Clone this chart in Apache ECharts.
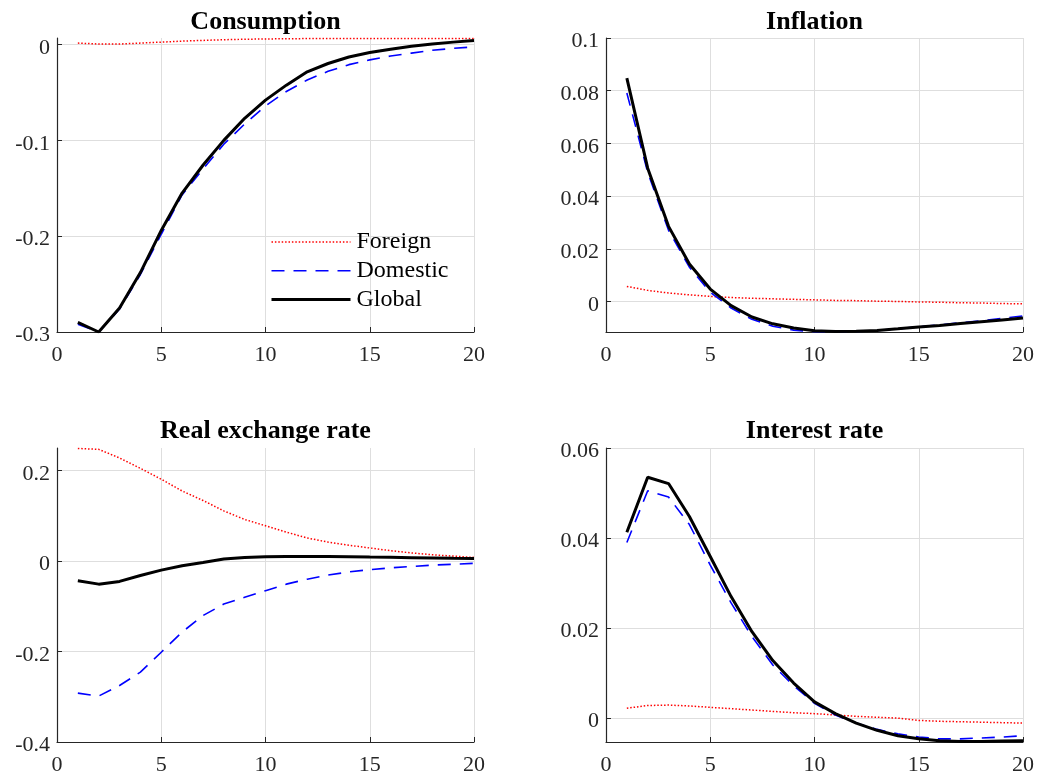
<!DOCTYPE html>
<html><head><meta charset="utf-8">
<script src="https://cdn.jsdelivr.net/npm/echarts@6/dist/echarts.min.js"></script>
<style>html,body{margin:0;padding:0;background:#fff}#c{width:1040px;height:776px}</style>
</head><body><div id="c"></div>
<script>
// ---------------- data ----------------
const periods = [1,2,3,4,5,6,7,8,9,10,11,12,13,14,15,16,17,18,19,20];
const seriesNames = ['Foreign','Domestic','Global'];
const panelTitles = ['Consumption','Inflation','Real exchange rate','Interest rate'];

const consForeign = [0.0015,0.0005,0.0005,0.0015,0.0025,0.0035,0.0043,0.005,0.0055,0.0058,0.006,0.0062,0.0062,0.0063,0.0063,0.0063,0.0063,0.0063,0.0063,0.0063];
const consDomestic = [-0.292,-0.3,-0.276,-0.24,-0.198,-0.157,-0.13,-0.104,-0.083,-0.064,-0.049,-0.037,-0.028,-0.021,-0.016,-0.012,-0.009,-0.006,-0.004,-0.0025];
const consGlobal = [-0.29,-0.3,-0.275,-0.238,-0.194,-0.155,-0.126,-0.1,-0.077,-0.058,-0.0424,-0.0285,-0.0198,-0.013,-0.0084,-0.0049,-0.0018,0.0005,0.0025,0.0042];

const inflForeign = [0.0057,0.0042,0.0032,0.0025,0.0019,0.0015,0.0012,0.001,0.0008,0.0006,0.0004,0.0003,0.0001,0,-0.0002,-0.0003,-0.0005,-0.0006,-0.0008,-0.0009];
const inflDomestic = [0.0791,0.049,0.027,0.013,0.0035,-0.0025,-0.0068,-0.0094,-0.0109,-0.0115,-0.0116,-0.0114,-0.011,-0.0104,-0.0096,-0.0089,-0.0081,-0.0073,-0.0064,-0.0055];
const inflGlobal = [0.0848,0.0506,0.0285,0.0142,0.0047,-0.0016,-0.0059,-0.0085,-0.0101,-0.0111,-0.0114,-0.0113,-0.011,-0.0104,-0.0097,-0.0091,-0.0084,-0.0077,-0.007,-0.0063];

const rerForeign = [0.249,0.247,0.228,0.205,0.181,0.155,0.134,0.111,0.092,0.078,0.064,0.051,0.042,0.035,0.029,0.023,0.018,0.014,0.011,0.008];
const rerDomestic = [-0.292,-0.2985,-0.275,-0.2455,-0.2015,-0.157,-0.1206,-0.095,-0.08,-0.0655,-0.051,-0.04,-0.031,-0.024,-0.019,-0.015,-0.012,-0.009,-0.007,-0.005];
const rerGlobal = [-0.0434,-0.051,-0.045,-0.032,-0.02,-0.0103,-0.003,0.0044,0.008,0.0095,0.01,0.0102,0.0101,0.0098,0.009,0.0083,0.0075,0.0068,0.006,0.0055];

const rateForeign = [0.0022,0.0028,0.0029,0.0027,0.0024,0.0021,0.0018,0.0015,0.0012,0.001,0.0007,0.0004,0.0002,0,-0.0005,-0.0007,-0.0008,-0.0009,-0.001,-0.0011];
const rateDomestic = [0.039,0.0505,0.0491,0.043,0.034,0.0256,0.0181,0.0118,0.0072,0.0033,0.0007,-0.0011,-0.0025,-0.0035,-0.0042,-0.0046,-0.0046,-0.0044,-0.0042,-0.0039];
const rateGlobal = [0.0413,0.0535,0.0521,0.0448,0.0359,0.027,0.0192,0.0128,0.0078,0.0036,0.001,-0.0011,-0.0027,-0.0039,-0.0046,-0.005,-0.0052,-0.0052,-0.0051,-0.005];

const xTickLabels = [0,5,10,15,20];
const consTicks = [-0.3,-0.2,-0.1,0];
const inflTicks = [0,0.02,0.04,0.06,0.08,0.1];
const rerTicks = [-0.4,-0.2,0,0.2];
const rateTicks = [0,0.02,0.04,0.06];

// ---------------- layout ----------------
const panels = [
  {title: panelTitles[0], data: [consForeign, consDomestic, consGlobal], ticks: consTicks, ymin: -0.3, ymax: 0.0068,
   grid: {left: 57, right: 566, top: 38, bottom: 444}, cx: 265.5, ty: 22},
  {title: panelTitles[1], data: [inflForeign, inflDomestic, inflGlobal], ticks: inflTicks, ymin: -0.0116, ymax: 0.1,
   grid: {left: 606, right: 17, top: 38, bottom: 444}, cx: 814.5, ty: 22},
  {title: panelTitles[2], data: [rerForeign, rerDomestic, rerGlobal], ticks: rerTicks, ymin: -0.4, ymax: 0.25,
   grid: {left: 57, right: 566, top: 448, bottom: 34}, cx: 265.5, ty: 431},
  {title: panelTitles[3], data: [rateForeign, rateDomestic, rateGlobal], ticks: rateTicks, ymin: -0.0053, ymax: 0.06,
   grid: {left: 606, right: 17, top: 448, bottom: 34}, cx: 814.5, ty: 431}
];

const FONT = '"Liberation Serif", "Times New Roman", serif';
const AXC = '#262626';
const GRIDC = '#dedede';
const fmt = v => { const r = Math.round(v * 1e6) / 1e6; return r === 0 ? '0' : String(r); };

const styles = [
  {color: '#ff0000', width: 1.5, type: [1.5, 1.9]},
  {color: '#0000ff', width: 1.6, type: [13, 9]},
  {color: '#000000', width: 3, type: 'solid'}
];

const grids = [], xAxes = [], yAxes = [], series = [], graphics = [];
panels.forEach((p, i) => {
  grids.push(Object.assign({containLabel: false}, p.grid));
  xAxes.push({
    type: 'value', gridIndex: i, min: 0, max: 20, interval: 5,
    axisLine: {show: true, onZero: false, lineStyle: {color: AXC, width: 1.2}},
    axisTick: {show: true, inside: true, length: 5, lineStyle: {color: AXC}, customValues: xTickLabels},
    axisLabel: {show: true, margin: 12, fontFamily: FONT, fontSize: 22, color: AXC, formatter: fmt, customValues: xTickLabels},
    splitLine: {show: true, lineStyle: {color: GRIDC, width: 1}}
  });
  yAxes.push({
    type: 'value', gridIndex: i, min: p.ymin, max: p.ymax,
    axisLine: {show: true, onZero: false, lineStyle: {color: AXC, width: 1.2}},
    axisTick: {show: true, inside: true, length: 5, lineStyle: {color: AXC}, customValues: p.ticks},
    axisLabel: {show: true, margin: 7, customValues: p.ticks, verticalAlign: 'middle',
                formatter: v => '{a|' + fmt(v) + '}',
                rich: {a: {fontFamily: FONT, fontSize: 22, color: AXC, lineHeight: 22, padding: [7, 0, 0, 0]}}},
    splitLine: {show: true, lineStyle: {color: GRIDC, width: 1}}
  });
  p.data.forEach((arr, k) => {
    series.push({
      name: seriesNames[k], type: 'line', xAxisIndex: i, yAxisIndex: i,
      data: periods.map((t, j) => [t, arr[j]]),
      symbol: 'none', showSymbol: false, smooth: false, clip: true,
      lineStyle: {color: styles[k].color, width: styles[k].width, type: styles[k].type},
      itemStyle: {color: styles[k].color},
      z: 2 + k, animation: false
    });
  });
  graphics.push({
    type: 'text', x: p.cx, y: p.ty,
    style: {text: p.title, font: 'bold 26px ' + FONT, fill: '#000', textAlign: 'center', textVerticalAlign: 'middle'}
  });
});

const chart = echarts.init(document.getElementById('c'), null, {renderer: 'canvas'});
chart.setOption({
  backgroundColor: '#ffffff',
  animation: false,
  grid: grids, xAxis: xAxes, yAxis: yAxes, series: series,
  graphic: graphics,
  legend: {
    show: true, orient: 'vertical', left: 270, top: 230,
    data: seriesNames, itemWidth: 79, itemHeight: 14, itemGap: 4.8, padding: 0,
    itemStyle: {opacity: 0, borderWidth: 0},
    lineStyle: {width: 'inherit', type: 'inherit'},
    textStyle: {fontFamily: FONT, fontSize: 24, color: '#000', lineHeight: 24, padding: [0, 0, 0, 1]},
    selectedMode: false
  }
});
</script></body></html>
